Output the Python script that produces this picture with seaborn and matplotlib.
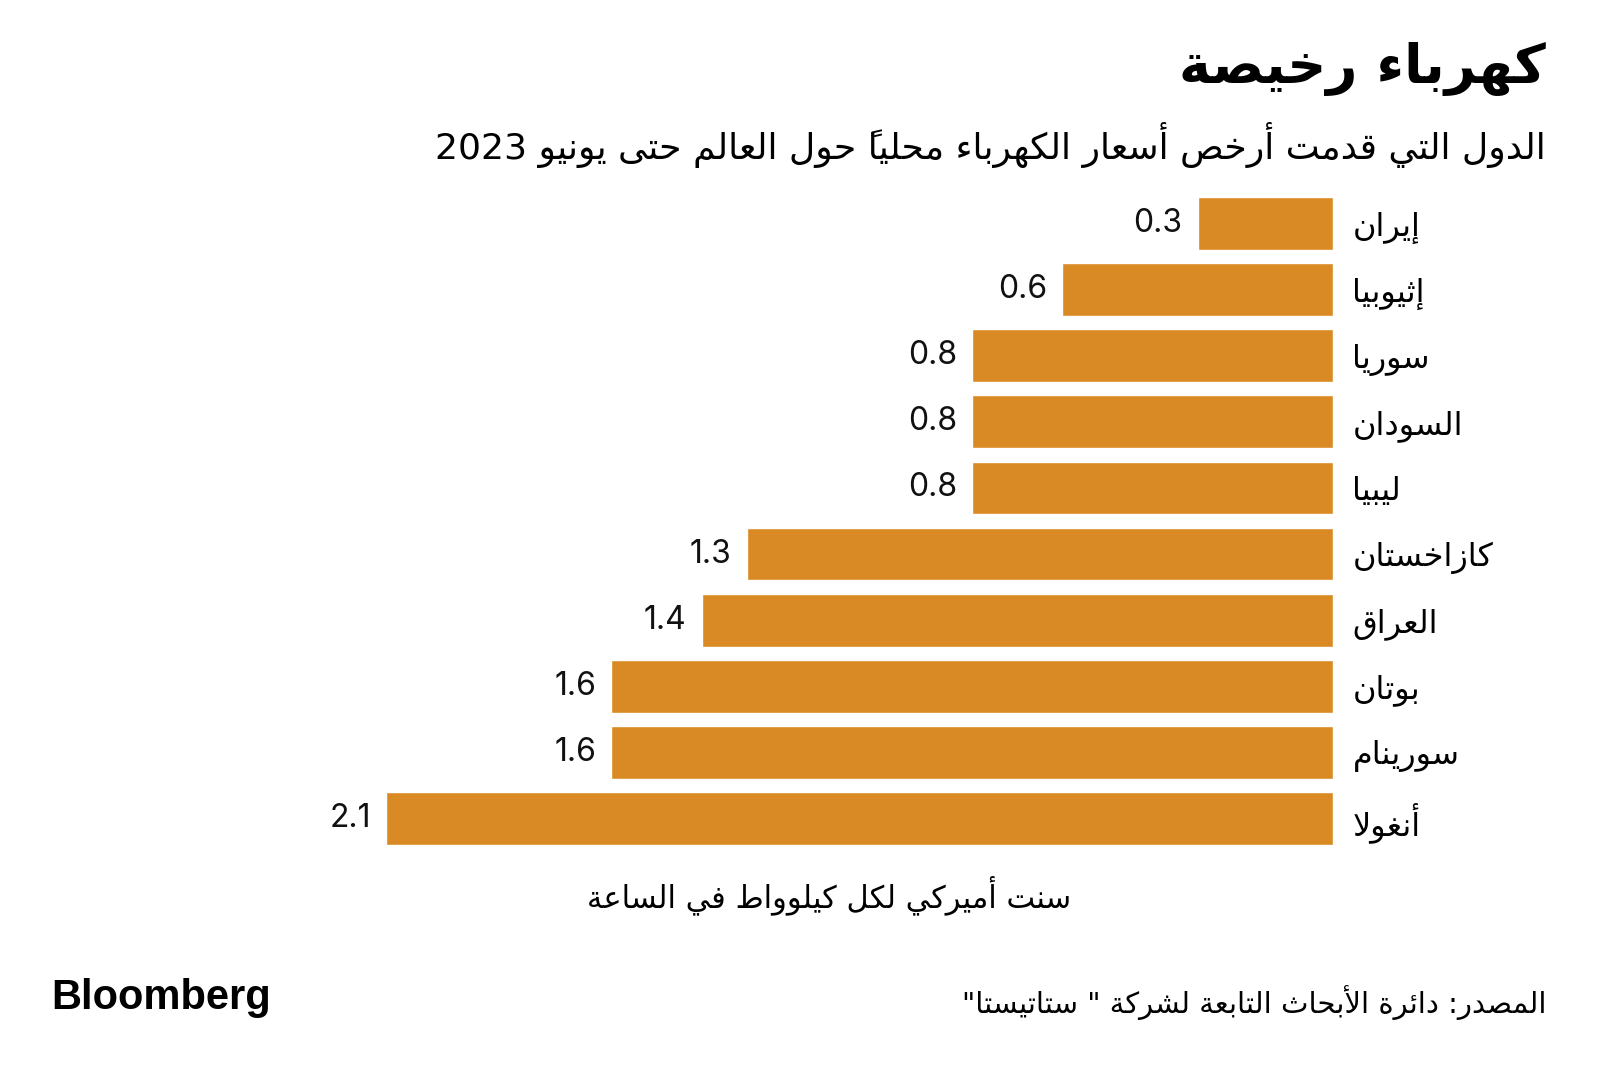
import pandas as pd
import seaborn as sns
import matplotlib.pyplot as plt

# data (US cents per kWh)
countries = ["إيران", "إثيوبيا", "سوريا", "السودان", "ليبيا",
             "كازاخستان", "العراق", "بوتان", "سورينام", "أنغولا"]
prices = [0.3, 0.6, 0.8, 0.8, 0.8, 1.3, 1.4, 1.6, 1.6, 2.1]

title = "كهرباء رخيصة"
subtitle = "الدول التي قدمت أرخص أسعار الكهرباء محلياً حول العالم حتى يونيو 2023"
xlabel = "سنت أميركي لكل كيلوواط في الساعة"
source = 'المصدر: دائرة الأبحاث التابعة لشركة " ستاتيستا"'

BAR = "#DA8A24"

""" minimal arabic shaping: matplotlib 3.10 draws glyphs left to right only """
# letter -> (isolated, final, initial, medial)
FORMS = {
    0x0621: (0xFE80, None, None, None),
    0x0622: (0xFE81, 0xFE82, None, None),
    0x0623: (0xFE83, 0xFE84, None, None),
    0x0624: (0xFE85, 0xFE86, None, None),
    0x0625: (0xFE87, 0xFE88, None, None),
    0x0626: (0xFE89, 0xFE8A, 0xFE8B, 0xFE8C),
    0x0627: (0xFE8D, 0xFE8E, None, None),
    0x0628: (0xFE8F, 0xFE90, 0xFE91, 0xFE92),
    0x0629: (0xFE93, 0xFE94, None, None),
    0x062A: (0xFE95, 0xFE96, 0xFE97, 0xFE98),
    0x062B: (0xFE99, 0xFE9A, 0xFE9B, 0xFE9C),
    0x062C: (0xFE9D, 0xFE9E, 0xFE9F, 0xFEA0),
    0x062D: (0xFEA1, 0xFEA2, 0xFEA3, 0xFEA4),
    0x062E: (0xFEA5, 0xFEA6, 0xFEA7, 0xFEA8),
    0x062F: (0xFEA9, 0xFEAA, None, None),
    0x0630: (0xFEAB, 0xFEAC, None, None),
    0x0631: (0xFEAD, 0xFEAE, None, None),
    0x0632: (0xFEAF, 0xFEB0, None, None),
    0x0633: (0xFEB1, 0xFEB2, 0xFEB3, 0xFEB4),
    0x0634: (0xFEB5, 0xFEB6, 0xFEB7, 0xFEB8),
    0x0635: (0xFEB9, 0xFEBA, 0xFEBB, 0xFEBC),
    0x0636: (0xFEBD, 0xFEBE, 0xFEBF, 0xFEC0),
    0x0637: (0xFEC1, 0xFEC2, 0xFEC3, 0xFEC4),
    0x0638: (0xFEC5, 0xFEC6, 0xFEC7, 0xFEC8),
    0x0639: (0xFEC9, 0xFECA, 0xFECB, 0xFECC),
    0x063A: (0xFECD, 0xFECE, 0xFECF, 0xFED0),
    0x0641: (0xFED1, 0xFED2, 0xFED3, 0xFED4),
    0x0642: (0xFED5, 0xFED6, 0xFED7, 0xFED8),
    0x0643: (0xFED9, 0xFEDA, 0xFEDB, 0xFEDC),
    0x0644: (0xFEDD, 0xFEDE, 0xFEDF, 0xFEE0),
    0x0645: (0xFEE1, 0xFEE2, 0xFEE3, 0xFEE4),
    0x0646: (0xFEE5, 0xFEE6, 0xFEE7, 0xFEE8),
    0x0647: (0xFEE9, 0xFEEA, 0xFEEB, 0xFEEC),
    0x0648: (0xFEED, 0xFEEE, None, None),
    0x0649: (0xFEEF, 0xFEF0, None, None),
    0x064A: (0xFEF1, 0xFEF2, 0xFEF3, 0xFEF4),
}
LAM_ALEF = {0x0622: (0xFEF5, 0xFEF6), 0x0623: (0xFEF7, 0xFEF8),
            0x0625: (0xFEF9, 0xFEFA), 0x0627: (0xFEFB, 0xFEFC)}


def is_mark(c):
    return 0x064B <= ord(c) <= 0x065F


def joins_left(c):
    # can this letter connect to the following one?
    f = FORMS.get(ord(c))
    return f is not None and f[2] is not None


def shape(text):
    chars = list(text)
    # base letters with their marks
    clusters = []
    for c in chars:
        if is_mark(c) and clusters:
            clusters[-1][1].append(c)
        else:
            clusters.append([c, []])
    out = []
    i = 0
    n = len(clusters)
    while i < n:
        c, marks = clusters[i]
        code = ord(c)
        prev = clusters[i - 1][0] if i > 0 else None
        join_prev = prev is not None and joins_left(prev)
        # lam-alef ligature
        if code == 0x0644 and i + 1 < n and ord(clusters[i + 1][0]) in LAM_ALEF:
            iso, fin = LAM_ALEF[ord(clusters[i + 1][0])]
            out.append((chr(fin if join_prev else iso), marks + clusters[i + 1][1]))
            i += 2
            continue
        if code in FORMS:
            iso, fin, ini, med = FORMS[code]
            nxt = clusters[i + 1][0] if i + 1 < n else None
            join_next = ini is not None and nxt is not None and ord(nxt) in FORMS
            if join_prev and join_next:
                g = med
            elif join_prev:
                g = fin
            elif join_next:
                g = ini
            else:
                g = iso
            out.append((chr(g), marks))
        else:
            out.append((c, marks))
        i += 1
    return out


def ar(text):
    """shape arabic and put it in visual (left to right) order"""
    clusters = shape(text)
    runs = []
    for base, marks in clusters:
        ltr = base.isascii() and (base.isalnum() or base == ".")
        if runs and runs[-1][0] == ltr:
            runs[-1][1].append((base, marks))
        else:
            runs.append([ltr, [(base, marks)]])
    s = ""
    for ltr, items in reversed(runs):
        seq = items if ltr else list(reversed(items))
        for base, marks in seq:
            # dejavu marks sit over the glyph that follows them
            s += "".join(marks) + base
    return s


df = pd.DataFrame({"country": [ar(c) for c in countries], "price": prices})

sns.set_theme(style="white")
plt.rcParams["font.family"] = ["DejaVu Sans"]

fig = plt.figure(figsize=(16, 10.75), dpi=100)
ax = fig.add_axes([386 / 1600, 1 - 851.5 / 1075, (1333 - 386) / 1600, (851.5 - 190.5) / 1075])

sns.barplot(data=df, y="country", x="price", orient="h", color=BAR,
            saturation=1, width=0.8, ax=ax)

ax.set_xlim(2.1, 0)
ax.set_ylim(9.5, -0.5)
for s in ax.spines.values():
    s.set_visible(False)
ax.set_xticks([])
ax.set_xlabel("")
ax.set_ylabel("")
ax.yaxis.tick_right()
ax.tick_params(axis="y", length=0, pad=14, labelsize=23, labelcolor="black")
for lab in ax.get_yticklabels():
    lab.set_horizontalalignment("left")

ax.bar_label(ax.containers[0], fmt="%.1f", padding=11, fontsize=23,
             family=["Inter", "DejaVu Sans"], color="#111111")

fig.text(1546 / 1600, 1 - 69 / 1075, ar(title), ha="right", va="center",
         fontsize=39, fontweight="bold", color="black")
fig.text(1546 / 1600, 1 - 145 / 1075, ar(subtitle), ha="right", va="center",
         fontsize=26, color="black")
fig.text(829 / 1600, 1 - 895 / 1075, ar(xlabel), ha="center", va="center",
         fontsize=22, color="black")
fig.text(1546 / 1600, 1 - 1003 / 1075, ar(source), ha="right", va="center",
         fontsize=21, color="black")
fig.text(51 / 1600, 1 - 998 / 1075, "Bloomberg", ha="left", va="center",
         fontsize=30, fontweight="bold", family="Liberation Sans", color="black")

plt.savefig("out.png", dpi=100)
